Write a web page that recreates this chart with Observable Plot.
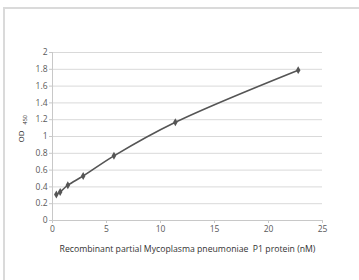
<!DOCTYPE html>
<html>
<head>
<meta charset="utf-8">
<script src="https://cdn.jsdelivr.net/npm/d3@7"></script>
<script src="https://cdn.jsdelivr.net/npm/@observablehq/plot@0.6"></script>
<style>
  html, body { margin: 0; padding: 0; background: #fff; }
  #wrap { position: relative; width: 359px; height: 280px; overflow: hidden; }
  #frame { position: absolute; left: 3px; top: 7px; width: 400px; height: 300px;
           border-top: 2px solid #dadada; border-left: 2px solid #dadada; }
  #chart { position: absolute; left: 0; top: 0; }
</style>
</head>
<body>
<div id="wrap"><div id="frame"></div><div id="chart"></div></div>
<script>
const concentration = [0.355, 0.71, 1.42, 2.84, 5.69, 11.375, 22.75];
const od450 = [0.31, 0.34, 0.42, 0.53, 0.77, 1.17, 1.79];
const xTicks = [0, 5, 10, 15, 20, 25];
const yTicks = [0, 0.2, 0.4, 0.6, 0.8, 1, 1.2, 1.4, 1.6, 1.8, 2];
const xLabel = "Recombinant partial Mycoplasma pneumoniae  P1 protein (nM)";
const yLabel = "OD";
const ySub = "450";

const data = concentration.map((c, i) => ({x: c, y: od450[i]}));

const chart = Plot.plot({
  width: 359,
  height: 280,
  marginLeft: 52,
  marginRight: 37,
  marginTop: 52,
  marginBottom: 60,
  style: {fontFamily: "'Open Sans', sans-serif", fontSize: "8.5px", color: "#595959", background: "transparent"},
  x: {domain: [0, 25], label: null},
  y: {domain: [0, 2], label: null},
  marks: [
    Plot.ruleY(yTicks.filter(d => d > 0), {stroke: "#d9d9d9", strokeWidth: 1}),
    Plot.ruleX([0], {stroke: "#c8c8c8"}),
    Plot.ruleY([0], {stroke: "#c8c8c8"}),
    Plot.axisX({ticks: xTicks, tickSize: 3, tickPadding: 2, stroke: "#c8c8c8", fill: "#595959", label: null}),
    Plot.axisY({ticks: yTicks, tickSize: 3, tickPadding: 2, stroke: "#c8c8c8", fill: "#595959", label: null, tickFormat: d => String(d)}),
    Plot.line(data, {x: "x", y: "y", curve: "catmull-rom", stroke: "#555", strokeWidth: 1.6}),
    Plot.dot(data, {x: "x", y: "y", symbol: "diamond", r: 2.4, fill: "#555", stroke: "none"}),
    Plot.text([xLabel], {frameAnchor: "bottom", dy: 31, text: d => d, fontSize: 8.7, fill: "#333"}),
    Plot.text([yLabel], {frameAnchor: "left", dx: -31, dy: 6, rotate: -90, text: d => d, fontSize: 8, fill: "#333"}),
    Plot.text([ySub], {frameAnchor: "left", dx: -27, dy: -12, rotate: -90, text: d => d, fontSize: 5.5, fill: "#333"})
  ]
});
document.getElementById("chart").appendChild(chart);
</script>
</body>
</html>
